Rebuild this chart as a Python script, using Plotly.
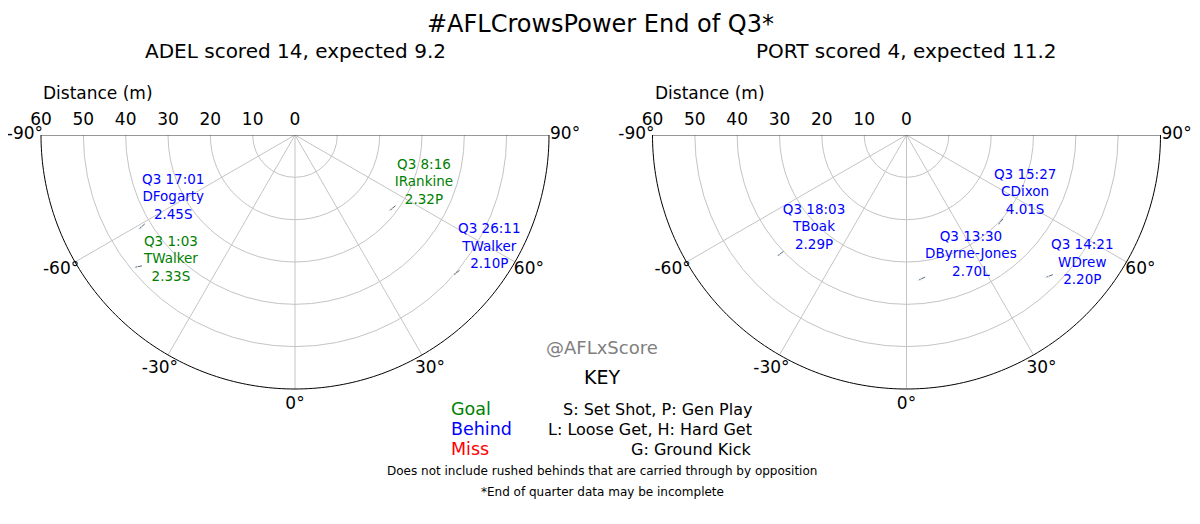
import numpy as np
import plotly.graph_objects as go

# shots (distance m, angle deg, 0 = straight in front)
adel_time = ["Q3 17:01", "Q3 1:03", "Q3 8:16", "Q3 26:11"]
adel_player = ["DFogarty", "TWalker", "IRankine", "TWalker"]
adel_xscore = [2.45, 2.33, 2.32, 2.10]
adel_kind = ["S", "S", "P", "P"]
adel_result = ["Behind", "Goal", "Goal", "Behind"]
adel_dist = [43.4, 49.5, 28.5, 49.9]
adel_angle = [-58.8, -50.7, 50.6, 48.1]
adel_label_dist = [32.4, 41.6, 32.5, 53.0]
adel_label_angle = [-62.6, -44.8, 69.6, 60.0]

port_time = ["Q3 18:03", "Q3 15:27", "Q3 13:30", "Q3 14:21"]
port_player = ["TBoak", "CDixon", "DByrne-Jones", "WDrew"]
port_xscore = [2.29, 4.01, 2.70, 2.20]
port_kind = ["P", "S", "L", "P"]
port_result = ["Behind", "Behind", "Behind", "Behind"]
port_dist = [42.2, 30.3, 34.6, 46.9]
port_angle = [-46.9, 44.9, 4.0, 43.9]
port_label_dist = [31.0, 31.2, 32.2, 51.4]
port_label_angle = [-44.8, 63.9, 28.2, 53.9]

dist_ticks = [60, 50, 40, 30, 20, 10, 0]
angle_ticks = [-90, -60, -30, 0, 30, 60, 90]

result_colors = {"Goal": "green", "Behind": "blue", "Miss": "red"}
key_results = ["Goal", "Behind", "Miss"]
key_kinds = ["S: Set Shot, P: Gen Play", "L: Loose Get, H: Hard Get", "G: Ground Kick"]

FONT = "DejaVu Sans"
GRID = "#c4c4c4"
ARROW = "#56687e"
W, H = 1200, 524
OFF = 8  # page body margin
R_MAX = 60      # outer ring of the chart
R_LABEL = 63.8  # angle labels sit just outside it
R_AX = 66       # radial range kept a bit wider so the labels get drawn
PX_PER_M = 254 / R_MAX


def px(x):
    return (x - OFF) / W


def py(y):
    return 1 - (y - OFF) / H


fig = go.Figure()


def to_xy(r, th):
    th = np.radians(th)
    return r * np.sin(th), r * np.cos(th)


def line(polar, r, theta, color, width):
    fig.add_trace(go.Scatterpolar(r=r, theta=theta, mode="lines",
                                  line=dict(color=color, width=width), subplot=polar,
                                  hoverinfo="skip", showlegend=False))


def add_team(polar, time, player, xs, kind, result, dist, ang, ldist, lang):
    # spokes every 30 deg
    for a in angle_ticks[1:-1]:
        line(polar, [0, R_MAX], [a, a], GRID, 1)
    # outer arc and straight top edge
    arc = np.arange(-90, 90.5, 1.0)
    line(polar, [R_MAX] * len(arc), arc, "black", 1)
    line(polar, [R_MAX, 0, R_MAX], [-90, -90, 90], "#333333", 1.2)
    # distance labels along the top edge
    fig.add_trace(go.Scatterpolar(r=dist_ticks, theta=[-90] * len(dist_ticks),
                                  mode="markers+text", marker=dict(size=8, opacity=0),
                                  text=[str(v) for v in dist_ticks], textposition="top center",
                                  textfont=dict(family=FONT, size=17, color="black"),
                                  subplot=polar, hoverinfo="skip", showlegend=False))
    # angle labels around the arc
    fig.add_trace(go.Scatterpolar(r=[R_LABEL] * len(angle_ticks), theta=angle_ticks,
                                  mode="text", text=["%d°" % v for v in angle_ticks],
                                  textposition="middle center",
                                  textfont=dict(family=FONT, size=17, color="black"),
                                  subplot=polar, hoverinfo="skip", showlegend=False))
    # little arrows from the label to the shot spot
    for q in range(len(dist)):
        hx, hy = to_xy(dist[q], ang[q])
        lx, ly = to_xy(ldist[q], lang[q])
        d = np.hypot(lx - hx, ly - hy)
        tx, ty = hx + 2.2 * (lx - hx) / d, hy + 2.2 * (ly - hy) / d
        fig.add_trace(go.Scatterpolar(
            r=[np.hypot(tx, ty), dist[q]],
            theta=[np.degrees(np.arctan2(tx, ty)), ang[q]],
            mode="lines+markers", line=dict(color=ARROW, width=1),
            marker=dict(symbol="arrow", size=[0, 5], color=ARROW, angleref="previous"),
            subplot=polar, hoverinfo="skip", showlegend=False))
    labels = ["%s<br>%s<br>%.2f%s" % (time[q], player[q], xs[q], kind[q]) for q in range(len(dist))]
    fig.add_trace(go.Scatterpolar(r=ldist, theta=lang, mode="text", text=labels,
                                  textfont=dict(family=FONT, size=13.5,
                                                color=[result_colors[v] for v in result]),
                                  subplot=polar, hoverinfo="skip", showlegend=False))


add_team("polar", adel_time, adel_player, adel_xscore, adel_kind, adel_result,
         adel_dist, adel_angle, adel_label_dist, adel_label_angle)
add_team("polar2", port_time, port_player, port_xscore, port_kind, port_result,
         port_dist, port_angle, port_label_dist, port_label_angle)


def polar_layout(cx):
    rad = R_AX * PX_PER_M
    return dict(
        domain=dict(x=[px(cx - rad), px(cx + rad)], y=[py(135 + rad), py(135)]),
        sector=[180, 360],
        bgcolor="rgba(0,0,0,0)",
        radialaxis=dict(range=[0, R_AX], tickmode="array", tickvals=dist_ticks[1:-1],
                        ticks="", showline=False, showticklabels=False,
                        gridcolor=GRID, gridwidth=1, angle=180, layer="below traces"),
        angularaxis=dict(rotation=-90, direction="counterclockwise", thetaunit="degrees",
                         ticks="", showline=False, showticklabels=False, showgrid=False),
    )


def score(result):
    return 6 * result.count("Goal") + result.count("Behind")


ann = [
    dict(text="#AFLCrowsPower End of Q3*", x=600, y=24, size=24),
    dict(text="ADEL scored %d, expected %.1f" % (score(adel_result), sum(adel_xscore)),
         x=295, y=51, size=20),
    dict(text="PORT scored %d, expected %.1f" % (score(port_result), sum(port_xscore)),
         x=906, y=51, size=20),
    dict(text="Distance (m)", x=98, y=93, size=17),
    dict(text="Distance (m)", x=710, y=93, size=17),
    dict(text="@AFLxScore", x=602, y=347, size=18, color="#808080"),
    dict(text="KEY", x=602, y=377, size=19),
    dict(text="Does not include rushed behinds that are carried through by opposition",
         x=602, y=471, size=12),
    dict(text="*End of quarter data may be incomplete", x=602, y=492, size=12),
]
for i, (res, kind) in enumerate(zip(key_results, key_kinds)):
    ann.append(dict(text=res, x=449, y=409 + 20 * i, xanchor="left", size=17.5,
                    color=result_colors[res]))
    ann.append(dict(text=kind, x=754, y=409 + 20 * i, xanchor="right", size=16))

annotations = []
for a in ann:
    annotations.append(dict(
        text=a["text"], x=px(a["x"]), y=py(a["y"]), xref="paper", yref="paper",
        xanchor=a.get("xanchor", "center"), yanchor="middle", showarrow=False,
        font=dict(family=FONT, size=a["size"], color=a.get("color", "black"))))

fig.update_layout(
    width=W, height=H,
    margin=dict(l=0, r=0, t=0, b=0),
    paper_bgcolor="white",
    font=dict(family=FONT, color="black"),
    polar=polar_layout(295),
    polar2=polar_layout(906.5),
    annotations=annotations,
    showlegend=False,
)

fig.write_html("out.html")
